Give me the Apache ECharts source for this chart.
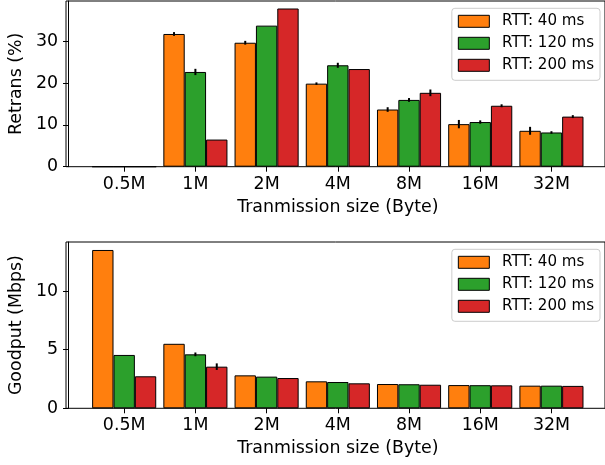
<!DOCTYPE html>
<html>
<head>
<meta charset="utf-8">
<script src="https://cdn.jsdelivr.net/npm/echarts@6/dist/echarts.min.js"></script>
<style>
html,body{margin:0;padding:0;background:#fff;}
#chart{width:605px;height:465px;}
</style>
</head>
<body>
<div id="chart"></div>
<script>
// ---- data ----
var categories = ['0.5M', '1M', '2M', '4M', '8M', '16M', '32M'];
var seriesNames = ['RTT: 40 ms', 'RTT: 120 ms', 'RTT: 200 ms'];

var retrans40  = [0, 31.8, 29.7, 19.9, 13.7, 10.2, 8.6];
var retrans120 = [0, 22.7, 33.8, 24.3, 16.0, 10.7, 8.2];
var retrans200 = [0, 6.5, 37.9, 23.4, 17.7, 14.6, 12.0];
var retransErr40  = [0, 0.45, 0.45, 0.3, 0.55, 1.0, 0.95];
var retransErr120 = [0, 0.75, 0, 0.6, 0.45, 0.4, 0.3];
var retransErr200 = [0, 0, 0, 0, 0.8, 0.35, 0.35];

var goodput40  = [13.5, 5.5, 2.81, 2.30, 2.07, 1.98, 1.93];
var goodput120 = [4.55, 4.6, 2.70, 2.24, 2.05, 1.97, 1.93];
var goodput200 = [2.73, 3.55, 2.58, 2.13, 2.01, 1.96, 1.91];
var goodputErr40  = [0, 0, 0, 0, 0, 0, 0];
var goodputErr120 = [0, 0.16, 0, 0, 0, 0, 0];
var goodputErr200 = [0, 0.28, 0, 0, 0, 0, 0];

var retransTicks = [0, 10, 20, 30];
var goodputTicks = [0, 5, 10];

// ---- styling ----
var colors = ['#ff7f0e', '#2ca02c', '#d62728'];
var FONT = 'DejaVu Sans';
var FS = 17.4;
var LFS = 15.1;

var chart = echarts.init(document.getElementById('chart'), null, {renderer: 'canvas'});

// layout (pixels)
var frameLeft = 66, frameWidth = 542;
var band = 71.5;
var dataLeft = 122.3 - band / 2;
var dataWidth = band * categories.length;
var yOffset = dataLeft - frameLeft;

var panels = [
  {top: 1, height: 165.7, max: 39.7, interval: 10, name: 'Retrans (%)',
   vals: [retrans40, retrans120, retrans200], errs: [retransErr40, retransErr120, retransErr200]},
  {top: 242, height: 166.3, max: 14.18, interval: 5, name: 'Goodput (Mbps)',
   vals: [goodput40, goodput120, goodput200], errs: [goodputErr40, goodputErr120, goodputErr200]}
];

var grids = [], xAxes = [], yAxes = [], series = [], legends = [];

panels.forEach(function (p, pi) {
  var gData = grids.length;
  grids.push({left: dataLeft, width: dataWidth, top: p.top, height: p.height, containLabel: false});
  var gFrame = grids.length;
  grids.push({left: frameLeft, width: frameWidth, top: p.top, height: p.height, show: true,
              borderColor: '#000', borderWidth: 1, backgroundColor: 'transparent', z: 0});

  var xi = xAxes.length;
  xAxes.push({
    type: 'category', gridIndex: gData, data: categories,
    boundaryGap: true,
    axisLine: {show: false},
    axisTick: {show: true, alignWithLabel: true, length: 5, lineStyle: {color: '#000', width: 1}},
    axisLabel: {color: '#000', fontFamily: FONT, fontSize: FS, margin: 9},
    name: 'Tranmission size (Byte)', nameLocation: 'middle', nameGap: 32,
    nameTextStyle: {color: '#000', fontFamily: FONT, fontSize: FS},
    splitLine: {show: false}
  });
  xAxes.push({type: 'value', gridIndex: gFrame, show: false, min: 0, max: 1});

  var yi = yAxes.length;
  yAxes.push({
    type: 'value', gridIndex: gData, min: 0, max: p.max, interval: p.interval,
    offset: yOffset,
    axisLine: {show: true, lineStyle: {color: '#000', width: 1}},
    axisTick: {show: true, length: 5, lineStyle: {color: '#000', width: 1}},
    axisLabel: {color: '#000', fontFamily: FONT, fontSize: FS, margin: 10,
                showMaxLabel: false,
                formatter: function (v) { return String(v); }},
    splitLine: {show: false},
    name: p.name, nameLocation: 'middle', nameGap: 40, nameRotate: 90,
    nameTextStyle: {color: '#000', fontFamily: FONT, fontSize: FS}
  });
  yAxes.push({type: 'value', gridIndex: gFrame, show: false, min: 0, max: 1});

  p.vals.forEach(function (arr, si) {
    series.push({
      type: 'bar', name: seriesNames[si], xAxisIndex: xi, yAxisIndex: yi,
      data: arr, barWidth: '30%', barGap: '0%',
      itemStyle: {color: colors[si], borderColor: '#000', borderWidth: 1},
      emphasis: {disabled: true}, animation: false, z: 2
    });
  });

  // error bars
  p.vals.forEach(function (arr, si) {
    var errs = p.errs[si];
    var offset = (si - 1) * 0.3;
    var data = arr.map(function (v, i) { return [i, v, errs[i]]; });
    series.push({
      type: 'custom', xAxisIndex: xi, yAxisIndex: yi, data: data, z: 5, animation: false,
      silent: true,
      renderItem: function (params, api) {
        var e = api.value(2);
        if (!e) return null;
        var v = api.value(1);
        var c = api.value(0);
        var bw = api.size([1, 0])[0];
        var hi = api.coord([c, v + e]);
        var lo = api.coord([c, v - e]);
        var x = hi[0] + offset * bw;
        return {type: 'line', shape: {x1: x, y1: hi[1], x2: x, y2: lo[1]},
                style: {stroke: '#000', lineWidth: 2}};
      }
    });
  });

  legends.push({
    data: seriesNames, orient: 'vertical', right: 5, top: p.top + 7.3,
    itemWidth: 31, itemHeight: 12, itemGap: 5,
    padding: [4.5, 6, 6.5, 6],
    backgroundColor: '#fff', borderColor: '#cccccc', borderWidth: 1, borderRadius: 3,
    icon: 'rect',
    itemStyle: {borderColor: '#000', borderWidth: 1},
    textStyle: {color: '#000', fontFamily: FONT, fontSize: LFS, lineHeight: 17,
                padding: [0, 0, 0, 7.7]},
    selectedMode: false, z: 10
  });
});

chart.setOption({
  backgroundColor: '#fff',
  animation: false,
  color: colors,
  grid: grids,
  xAxis: xAxes,
  yAxis: yAxes,
  legend: legends,
  series: series
});
</script>
</body>
</html>
